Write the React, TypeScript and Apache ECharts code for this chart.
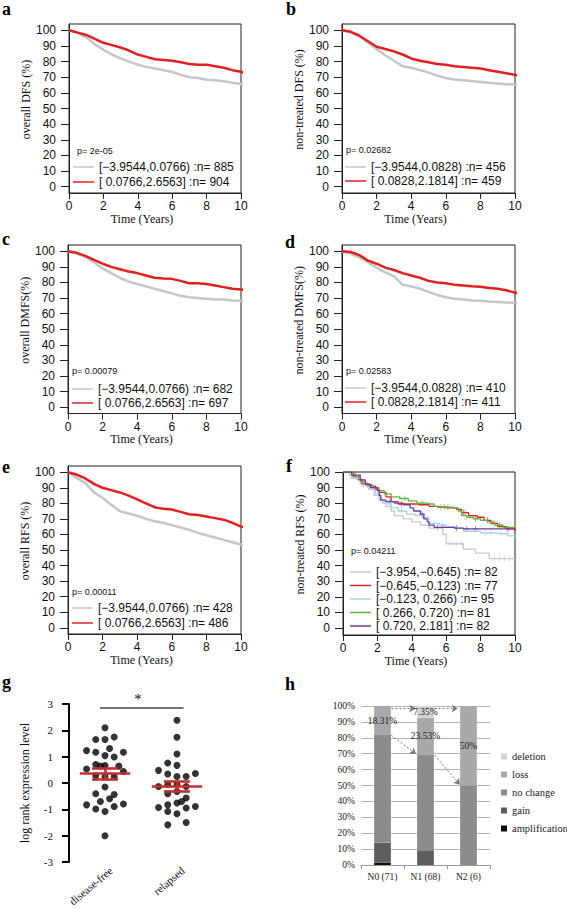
import React, { useEffect, useRef } from 'react';
import * as echarts from 'echarts';

// ---------- Kaplan-Meier data (panels a–e), percent surviving ----------
const kmTimes = [0, 0.5, 1, 1.5, 2, 2.5, 3, 3.5, 4, 4.5, 5, 5.5, 6, 6.5, 7, 7.5, 8, 8.5, 9, 9.5, 10, 10.3];
const aLow = [100, 98.5, 95.5, 91, 87.5, 84.5, 82, 80, 78, 76.5, 75.5, 74.5, 73.3, 71.5, 70, 69.5, 68.4, 68, 67.4, 66.5, 65.7, 65];
const aHigh = [100, 98.5, 97, 94.5, 92, 90.5, 89, 87, 84.5, 83, 81.5, 81, 80.5, 79.5, 78.5, 78, 78, 77, 76, 74.5, 73.5, 72.5];
const bLow = [100, 99, 96.5, 92, 88, 84, 80.5, 77, 76, 74.5, 73, 71, 69.5, 68.5, 68, 67.5, 67, 66.5, 66, 65.5, 65.3, 65];
const bHigh = [100, 99, 96.5, 93, 89.5, 88, 86.5, 84.5, 82, 80.5, 79.5, 78.5, 78, 77, 76.5, 76, 75.5, 74.5, 73.5, 72.5, 71.5, 71];
const cLow = [100, 98.5, 96.5, 93, 89, 86, 83, 80.5, 79, 77.5, 76, 74.5, 73, 71.5, 70.5, 70, 69.5, 69, 69, 68.5, 68.3, 68];
const cHigh = [100, 99, 97, 94.5, 92, 90, 88.5, 87, 86, 84.5, 83, 82.5, 82.3, 81, 79.5, 79.5, 79, 78, 77, 76, 75.5, 75];
const dLow = [100, 98.5, 96, 93, 89.5, 86.5, 84, 78.5, 77.5, 76, 74, 72, 70.5, 69.5, 69, 68.5, 68.3, 67.8, 67.5, 67.2, 67, 66.8];
const dHigh = [100, 99.5, 97.5, 94, 92, 89.5, 88, 86, 84.5, 83, 81, 80, 79.5, 78.5, 78, 77.5, 77.3, 76.5, 76, 75, 73.5, 73];
const eLow = [100, 96.5, 93, 87, 83.5, 79, 75, 73.5, 72, 70, 68.5, 67.5, 66, 64.5, 63, 61, 59.5, 58, 56.5, 55, 53.5, 53];
const eHigh = [100, 98.5, 96, 92.5, 90, 88.5, 87, 85, 82.5, 80, 77.5, 76.5, 76, 74.5, 73, 72.5, 71.5, 70.5, 69.5, 67.5, 65, 64.5];

// ---------- panel f: five quantile groups (step curves) ----------
const fT1 = [0, 0.4, 0.8, 1.1, 1.5, 1.9, 2.1, 2.3, 2.5, 2.8, 3.0, 3.5, 4.0, 4.5, 5.0, 5.8, 6.0, 7.0, 7.7, 8.5, 10];
const fV1 = [100, 97, 95, 92, 89, 86, 83, 80, 78, 75, 72, 70, 68, 66, 64, 60, 54, 50.5, 48, 44.5, 44.5];
const fT2 = [0, 0.6, 0.9, 1.1, 1.5, 1.9, 2.1, 2.5, 2.8, 3.2, 4.4, 5.0, 5.5, 6.0, 6.6, 6.9, 7.3, 7.8, 8.2, 8.6, 9.0, 9.5, 10];
const fV2 = [100, 97, 95, 92.5, 91, 89, 87, 84, 81, 79.5, 79, 78, 77.5, 77, 76, 74, 72, 71, 69, 67, 65, 63.5, 62];
const fT3 = [0, 0.5, 1, 1.5, 1.8, 2.1, 2.4, 2.8, 3.2, 3.7, 4.2, 4.6, 5.0, 5.6, 6.0, 6.5, 7.0, 8.0, 9.0, 9.6, 10];
const fV3 = [100, 96, 92, 89, 85, 82, 80, 77, 75, 73, 72, 71, 67, 66, 65, 64, 62, 61, 60.5, 59, 58.5];
const fT4 = [0, 0.7, 1.0, 1.3, 1.7, 2.1, 2.4, 2.8, 3.3, 3.8, 4.3, 5.0, 5.3, 5.6, 6.4, 6.7, 6.9, 7.2, 7.6, 8.0, 8.4, 8.8, 9.3, 10];
const fV4 = [100, 97, 94, 92, 90, 88, 86, 84, 83, 81.5, 80, 79.5, 78, 77.5, 77, 75, 72, 71, 70, 69, 68, 66, 64.5, 64];
const fT5 = [0, 0.5, 1.0, 1.3, 1.6, 2.0, 2.1, 2.2, 2.5, 3.0, 3.5, 3.9, 4.1, 4.5, 4.7, 4.9, 5.0, 5.3, 6.5, 7.0, 10];
const fV5 = [100, 98, 95, 92, 90, 88, 85, 82, 81, 80, 79, 77, 75, 73, 70, 68, 66, 64.5, 64, 63.5, 63.5];
// censoring times (years) shown as "+" marks
const fC1 = [2.6, 6.2, 6.4, 6.6, 6.9, 8.8, 9.1, 9.4, 9.7];
const fC2 = [1.2, 3.4, 7.0, 7.1, 8.4, 9.6];
const fC3 = [3.4, 5.3, 5.8, 8.3, 8.6, 9.2, 9.5];
const fC4 = [3.6, 4.6, 5.7, 5.9, 6.1, 7.7, 9.1];
const fC5 = [1.4, 2.7, 4.6, 5.5, 5.8, 6.6, 7.2, 7.7];

const kmYTicks = [0, 10, 20, 30, 40, 50, 60, 70, 80, 90, 100];

const legA = ['[−3.9544,0.0766) :n= 885', '[ 0.0766,2.6563] :n= 904'];
const legB = ['[−3.9544,0.0828) :n= 456', '[ 0.0828,2.1814] :n= 459'];
const legC = ['[−3.9544,0.0766) :n= 682', '[ 0.0766,2.6563] :n= 697'];
const legD = ['[−3.9544,0.0828) :n= 410', '[ 0.0828,2.1814] :n= 411'];
const legE = ['[−3.9544,0.0766) :n= 428', '[ 0.0766,2.6563] :n= 486'];
const legF = ['[−3.954,−0.645) :n= 82', '[−0.645,−0.123) :n= 77', '[−0.123, 0.266) :n= 95', '[ 0.266, 0.720) :n= 81', '[ 0.720, 2.181] :n= 82'];
const pValues = ['p= 2e-05', 'p= 0.02682', 'p= 0.00079', 'p= 0.02583', 'p= 0.00011', 'p= 0.04211'];
const yTitles = ['overall DFS (%)', 'non-treated DFS (%)', 'overall DMFS(%)', 'non-treated DMFS(%)', 'overall RFS (%)', 'non-treated RFS (%)'];

// ---------- panel g: expression level scatter ----------
const gCategories = ['disease-free', 'relapsed'];
const gFreeValues = [2.10, 1.65, 1.65, 1.75, 1.23, 1.17, 1.31, 1.17, 1.04, 0.99, 0.70, 0.66, 0.64, 0.64, 0.53, 0.44, 0.28, 0.25, 0.25, -0.15, -0.41, -0.44, -0.60, -0.70, -0.83, -0.80, -0.99, -1.08, -0.89, -2.0];
const gFreeSlots = [0, -2, 0, 2, -4, -2, 1, 4, 0, 2, -2, 0, -1, 3, -4, 4, -2, 0, 2, 0, -2, 2, 1, -1, -4, 4, -2, 0, 2, 0];
const gRelValues = [2.38, 1.74, 1.10, 0.76, 0.67, 0.48, 0.34, 0.25, 0.25, 0.36, -0.13, -0.06, -0.13, -0.32, -0.41, -0.57, -0.83, -0.76, -0.70, -0.93, -1.08, -1.17, -0.95, -0.89, -1.59, -1.50, -0.06];
const gRelSlots = [0, 0, 0, -2, 0, -4, -2, 0, 2, 4, -4, -2, 2, 0, -2, 2, -2, 0, 1, -4, -2, 0, 2, 4, -2, 2, 0];
const gMeans = [0.355, -0.13];
const gSems = [0.195, 0.18];
const gSignif = '*';

// ---------- panel h: copy-number status by nodal stage (%) ----------
const hCategories = ['N0 (71)', 'N1 (68)', 'N2 (6)'];
const hStatus = ['amplification', 'gain', 'no change', 'loss', 'deletion'];
const hAmplification = [1.41, 0, 0];
const hGain = [12.68, 8.82, 0];
const hNoChange = [67.6, 60.29, 50];
const hLoss = [18.31, 23.53, 50];
const hDeletion = [0, 7.35, 0];
const hLossLabels = ['18.31%', '23.53%', '50%'];
const hDeletionLabels = ['', '7.35%', ''];

const SANS = 'Liberation Sans';
const SERIF = 'Liberation Serif';

const kmGrids = [
  { left: 69, top: 24, width: 172, height: 169 },
  { left: 342, top: 24, width: 173, height: 169 },
  { left: 68, top: 245, width: 173, height: 168.5 },
  { left: 342, top: 245, width: 173, height: 168.5 },
  { left: 68, top: 466, width: 173, height: 168 },
  { left: 343, top: 472, width: 172, height: 163 },
];
const kmLegendPos = [
  { left: 73, top: 161, gap: 3 },
  { left: 345, top: 161, gap: 2 },
  { left: 72, top: 383, gap: 2 },
  { left: 345, top: 382, gap: 2 },
  { left: 72, top: 602, gap: 3 },
  { left: 350, top: 566, gap: 1.5 },
];
const pPos = [[77, 151], [346, 150], [72, 371], [346, 371], [72, 592], [351, 551]];
const letterPos: [string, number, number][] = [
  ['a', 2, 0], ['b', 286, 0], ['c', 2, 230.4], ['d', 285, 232.7],
  ['e', 2, 457.7], ['f', 286, 456.7], ['g', 2, 672.7], ['h', 285, 674.7],
];
const gLabelAnchors = [[111, 869], [183, 869]];

const GRAY = '#c6c6c6';
const RED = '#e3201f';
const fColors = ['#c9c9c9', '#e8231f', '#a9d3e3', '#5db53a', '#6a3f9c'];
const PLUS = 'path://M-0.12,-1H0.12V-0.12H1V0.12H0.12V1H-0.12V0.12H-1V-0.12H-0.12Z';

function stepValue(T: number[], V: number[], t: number) {
  let v = V[0];
  for (let j = 0; j < T.length; j++) if (T[j] <= t) v = V[j];
  return v;
}

function buildOption() {
  const grids: any[] = [];
  const xAxes: any[] = [];
  const yAxes: any[] = [];
  const series: any[] = [];
  const legends: any[] = [];
  const graphics: any[] = [];

  const twoGroup = [
    [aLow, aHigh, legA], [bLow, bHigh, legB], [cLow, cHigh, legC],
    [dLow, dHigh, legD], [eLow, eHigh, legE],
  ] as any[];

  for (let i = 0; i < 6; i++) {
    grids.push({
      ...kmGrids[i], show: true, borderColor: '#222', borderWidth: 1, backgroundColor: 'transparent',
      containLabel: false, outerBoundsMode: 'none',
    });
    xAxes.push({
      gridIndex: i, type: 'value', min: 0, max: 10, interval: 2,
      name: 'Time (Years)', nameLocation: 'middle', nameGap: 19,
      nameTextStyle: { fontFamily: SERIF, fontSize: 12, color: '#111', padding: [0, 26, 0, 0] },
      axisLine: { show: true, onZero: false, lineStyle: { color: '#222', width: 1 } },
      axisTick: { show: true, length: 6, lineStyle: { color: '#222' } },
      axisLabel: { fontFamily: SANS, fontSize: 12, color: '#111', margin: 7 },
      splitLine: { show: false },
    });
    yAxes.push({
      gridIndex: i, type: 'value', min: i === 5 ? -4.5 : -4, max: i === 5 ? 100 : 104,
      name: yTitles[i], nameLocation: 'middle', nameGap: i % 2 === 0 ? 31 : 30,
      nameTextStyle: { fontFamily: SERIF, fontSize: 12, color: '#111', padding: [0, 0, 0, 18] },
      axisLine: { show: true, onZero: false, lineStyle: { color: '#222', width: 1 } },
      axisTick: { show: true, length: 8, customValues: kmYTicks, lineStyle: { color: '#222' } },
      axisLabel: { fontFamily: SANS, fontSize: 12, color: '#111', margin: 13, customValues: kmYTicks },
      splitLine: { show: false },
    });
    legends.push({
      left: kmLegendPos[i].left, top: kmLegendPos[i].top, orient: 'vertical', padding: 0,
      itemGap: kmLegendPos[i].gap, itemWidth: 21, itemHeight: 1.5, icon: 'rect', selectedMode: false,
      textStyle: { fontFamily: SANS, fontSize: 12, color: '#111' },
      data: i < 5 ? twoGroup[i][2] : legF,
    });
    graphics.push({
      type: 'text', x: pPos[i][0], y: pPos[i][1], silent: true,
      style: { text: pValues[i], fontFamily: SANS, fontSize: 9, fill: '#111', verticalAlign: 'middle', align: 'left' },
    });
    if (i < 5) {
      const [low, high, names] = twoGroup[i];
      series.push({
        type: 'line', name: names[0], xAxisIndex: i, yAxisIndex: i, clip: false,
        data: kmTimes.map((t, j) => [t, low[j]]), symbol: 'none', showSymbol: false,
        itemStyle: { color: GRAY }, lineStyle: { color: GRAY, width: 2.5 },
      });
      series.push({
        type: 'line', name: names[1], xAxisIndex: i, yAxisIndex: i, clip: false,
        data: kmTimes.map((t, j) => [t, high[j]]), symbol: 'none', showSymbol: false,
        itemStyle: { color: RED }, lineStyle: { color: RED, width: 2.5 },
      });
    } else {
      const fT = [fT1, fT2, fT3, fT4, fT5];
      const fV = [fV1, fV2, fV3, fV4, fV5];
      const fC = [fC1, fC2, fC3, fC4, fC5];
      for (let k = 0; k < 5; k++) {
        series.push({
          type: 'line', name: legF[k], xAxisIndex: i, yAxisIndex: i, step: 'end',
          data: fT[k].map((t, j) => [t, fV[k][j]]), symbol: 'none', showSymbol: false,
          itemStyle: { color: fColors[k] }, lineStyle: { color: fColors[k], width: 1.3 },
        });
        series.push({
          type: 'scatter', name: 'censored ' + (k + 1), xAxisIndex: i, yAxisIndex: i,
          symbol: PLUS, symbolSize: 6, silent: true,
          itemStyle: { color: fColors[k] },
          data: fC[k].map((t) => [t, stepValue(fT[k], fV[k], t)]),
        });
      }
    }
  }

  // ---------- panel g ----------
  const G = 6;
  grids.push({ left: 69, top: 704, width: 145.4, height: 158, containLabel: false, outerBoundsMode: 'none' });
  xAxes.push({
    gridIndex: G, type: 'value', min: 0, max: 2.02, interval: 0.5,
    axisLine: { show: false, onZero: false }, axisTick: { show: false }, splitLine: { show: false },
    axisLabel: { show: false },
  });
  yAxes.push({
    gridIndex: G, type: 'value', min: -3, max: 3, interval: 1,
    name: 'log rank expression level', nameLocation: 'middle', nameGap: 38,
    nameTextStyle: { fontFamily: SERIF, fontSize: 12, color: '#111' },
    axisLine: { show: true, onZero: false, lineStyle: { color: '#000', width: 2 } },
    axisTick: { show: true, length: 7, lineStyle: { color: '#000', width: 2 } },
    axisLabel: { fontFamily: SERIF, fontSize: 11, color: '#111', margin: 16 },
    splitLine: { show: false },
  });
  const slotW = 0.064;
  const centers = [0.5, 1.5];
  const redLines: any[] = [];
  for (let k = 0; k < 2; k++) {
    const c = centers[k], m = gMeans[k], s = gSems[k];
    redLines.push([{ coord: [c - 0.35, m] }, { coord: [c + 0.35, m] }]);
    redLines.push([{ coord: [c - 0.18, m + s] }, { coord: [c + 0.18, m + s] }]);
    redLines.push([{ coord: [c - 0.18, m - s] }, { coord: [c + 0.18, m - s] }]);
    redLines.push([{ coord: [c, m - s] }, { coord: [c, m + s] }]);
  }
  series.push({
    type: 'scatter', name: gCategories[0], xAxisIndex: G, yAxisIndex: G, symbolSize: 7, clip: false,
    itemStyle: { color: '#000' },
    data: gFreeValues.map((v, j) => [centers[0] + gFreeSlots[j] * slotW, v]),
    markLine: {
      silent: true, symbol: 'none', animation: false,
      label: { show: false },
      lineStyle: { color: '#000', width: 2, type: 'solid' },
      data: [[{ coord: [0, 0] }, { coord: [2.07, 0] }]],
    },
  });
  series.push({
    type: 'scatter', name: gCategories[1], xAxisIndex: G, yAxisIndex: G, symbolSize: 7, clip: false,
    itemStyle: { color: '#000' },
    data: gRelValues.map((v, j) => [centers[1] + gRelSlots[j] * slotW, v]),
    markLine: {
      silent: true, symbol: 'none', animation: false,
      label: { show: false },
      lineStyle: { color: '#c62d2d', width: 2.6, type: 'solid' },
      data: redLines,
    },
  });
  series.push({
    type: 'line', xAxisIndex: G, yAxisIndex: G, data: [], silent: true,
    itemStyle: { color: '#444' },
    markLine: {
      silent: true, symbol: 'none', animation: false,
      lineStyle: { color: '#444', width: 1.5, type: 'solid' },
      label: { show: false },
      data: [[{ coord: [0.43, 2.84] }, { coord: [1.59, 2.84] }]],
    },
  });
  graphics.push({
    type: 'text', x: 138, y: 699, silent: true,
    style: { text: gSignif, fontFamily: SERIF, fontSize: 15, fill: '#111', align: 'center', verticalAlign: 'middle' },
  });
  gCategories.forEach((c, k) => {
    graphics.push({
      type: 'text', x: gLabelAnchors[k][0], y: gLabelAnchors[k][1], rotation: (40 * Math.PI) / 180, silent: true,
      style: { text: c, fontFamily: SERIF, fontSize: 11, fill: '#111', align: 'right', verticalAlign: 'middle' },
    });
  });

  // ---------- panel h ----------
  const H = 7;
  grids.push({ left: 361, top: 706, width: 129, height: 159, containLabel: false, outerBoundsMode: 'none' });
  xAxes.push({
    gridIndex: H, type: 'category', data: hCategories,
    axisLine: { show: true, onZero: false, lineStyle: { color: '#999' } },
    axisTick: { show: true, length: 4, lineStyle: { color: '#999' } },
    axisLabel: { fontFamily: SERIF, fontSize: 9.5, color: '#222', margin: 7 },
  });
  xAxes.push({ gridIndex: H, type: 'value', min: -0.5, max: 2.5, show: false });
  yAxes.push({
    gridIndex: H, type: 'value', min: 0, max: 100, interval: 10,
    axisLine: { show: true, lineStyle: { color: '#999' } },
    axisTick: { show: true, length: 3, lineStyle: { color: '#999' } },
    axisLabel: { fontFamily: SERIF, fontSize: 9.5, color: '#222', margin: 6, formatter: '{value}%' },
    splitLine: { show: true, lineStyle: { color: '#b4b4b4', width: 1 } },
  });
  const hColors = ['#111111', '#5e5e5e', '#8b8b8b', '#a9a9a9', '#d4d4d4'];
  const hData = [hAmplification, hGain, hNoChange, hLoss, hDeletion];
  for (let k = 0; k < 5; k++) {
    const labels = k === 3 ? hLossLabels : k === 4 ? hDeletionLabels : null;
    series.push({
      type: 'bar', name: hStatus[k], xAxisIndex: 7, yAxisIndex: H, stack: 'cn', barWidth: 16.7,
      itemStyle: { color: hColors[k] },
      data: hData[k],
      label: labels ? {
        show: true, position: 'inside', fontFamily: SERIF, fontSize: 9.5, color: '#222',
        formatter: (p: any) => labels[p.dataIndex],
      } : { show: false },
    });
  }
  // arrows between stages
  series.push({
    type: 'lines', coordinateSystem: 'cartesian2d', xAxisIndex: 8, yAxisIndex: H, silent: true,
    symbol: ['none', 'arrow'], symbolSize: 6,
    lineStyle: { color: '#777', width: 1, type: [2, 2], opacity: 1 },
    data: [
      { coords: [[0.21, 98.5], [0.76, 98.5]] },
      { coords: [[1.21, 98.5], [1.75, 98.5]] },
      { coords: [[0.2, 81.7], [0.78, 69.8]] },
      { coords: [[1.21, 69.1], [1.8, 50.5]] },
    ],
  });
  legends.push({
    left: 501, top: 751, orient: 'vertical', padding: 0, itemGap: 7, itemWidth: 6, itemHeight: 6,
    icon: 'rect', selectedMode: false,
    textStyle: { fontFamily: SERIF, fontSize: 10.5, color: '#222' },
    data: ['deletion', 'loss', 'no change', 'gain', 'amplification'],
  });

  for (const [ch, x, y] of letterPos) {
    graphics.push({
      type: 'text', x, y, silent: true,
      style: { text: ch, fontFamily: SERIF, fontWeight: 'bold', fontSize: 18, fill: '#000', verticalAlign: 'top', align: 'left' },
    });
  }

  return {
    animation: false,
    backgroundColor: '#ffffff',
    grid: grids,
    xAxis: xAxes,
    yAxis: yAxes,
    legend: legends,
    series,
    graphic: graphics,
  };
}

export default function App() {
  const ref = useRef<HTMLDivElement>(null);
  useEffect(() => {
    if (!ref.current) return;
    const chart = echarts.init(ref.current, undefined, { renderer: 'svg' });
    chart.setOption(buildOption() as any);
    return () => chart.dispose();
  }, []);
  return (
    <div
      ref={ref}
      style={{ position: 'absolute', left: 0, top: 0, width: 567, height: 909, background: '#fff' }}
    />
  );
}
